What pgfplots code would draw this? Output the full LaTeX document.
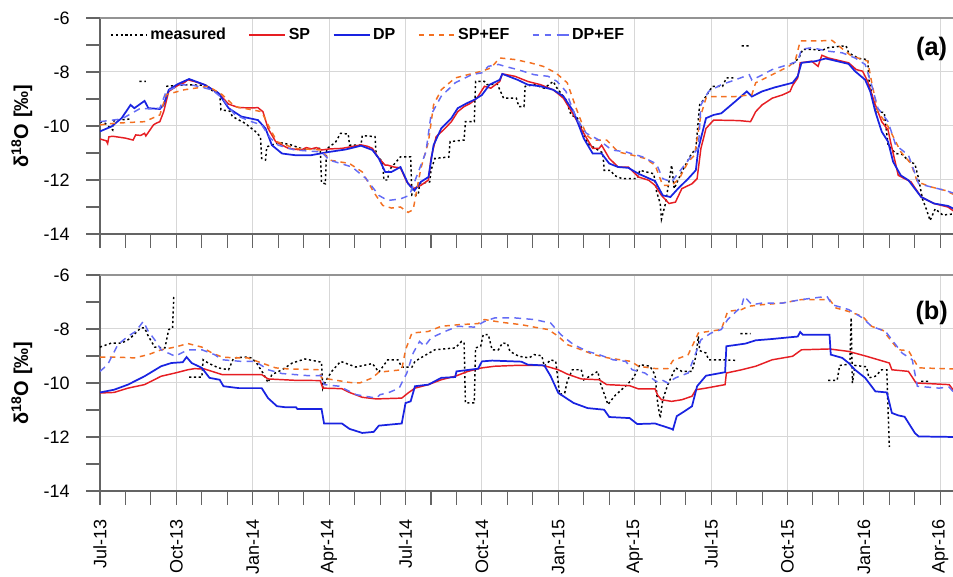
\documentclass[border=0pt]{standalone}
\usepackage{fontspec}
\setmainfont{Liberation Sans}
\usepackage{pgfplots}
\pgfplotsset{compat=1.18}

\definecolor{cSP}{RGB}{230,30,35}
\definecolor{cDP}{RGB}{25,35,225}
\definecolor{cSPEF}{RGB}{243,112,33}
\definecolor{cDPEF}{RGB}{100,108,245}
\definecolor{axgray}{RGB}{100,100,100}
\definecolor{gridgray}{RGB}{215,215,215}

\pgfplotsset{
  mystyle/.style={
    scale only axis, width=639.75pt, height=162pt,
    xmin=0, xmax=33.5, ymin=-14, ymax=-6,
    axis x line*=bottom, axis y line*=left,
    axis line style={axgray, line width=0.8pt, -},
    xtick={0,3,...,33}, minor xtick={0,1,...,33},
    ytick={-14,-12,-10,-8,-6}, minor ytick={-13,-11,-9,-7},
    yticklabels={-14,-12,-10,-8,-6},
    tick align=inside, major tick length=-10.5pt, minor tick length=-10.5pt,
    tick style={axgray, line width=0.8pt},
    xmajorgrids, ymajorgrids, grid style={gridgray, line width=0.75pt},
    tick label style={font=\fontsize{13.5}{16}\selectfont},
    yticklabel style={anchor=east, inner sep=0pt, xshift=-22.5pt},
    clip mode=individual,
    unbounded coords=jump,
  },
  meas/.style={black, line width=1.1pt, dash pattern=on 1.6pt off 2pt},
  sp/.style={cSP, line width=1.1pt},
  dp/.style={cDP, line width=1.3pt},
  spef/.style={cSPEF, line width=1.1pt, dash pattern=on 4pt off 3.5pt},
  dpef/.style={cDPEF, line width=1.1pt, dash pattern=on 5pt off 4pt},
}

\begin{document}
\begin{tikzpicture}
% ---------------- panel (a) ----------------
\begin{axis}[mystyle, at={(0,192.75pt)}, anchor=south west,
  xticklabels={},
  legend columns=-1,
  legend image code/.code={\draw[#1] (0pt,0pt) -- (22.5pt,0pt); \path (22.5pt,0pt) -- (27pt,0pt);},
  legend style={draw=none, fill=none, at={(rel axis cs:0.0117,0.921)}, anchor=west,
    inner sep=0pt, font=\fontsize{12}{14}\selectfont\bfseries,
    /tikz/every even column/.append style={column sep=15pt}},
]
\addplot[meas] coordinates {(0,-9.84) (0.2,-9.9) (0.5,-10.15) (0.55,-9.8) (1.2,-9.74) (1.25,nan) (1.55,-8.35) (1.8,-8.35) (1.85,nan) (2.6,-8.53) (3.0,-8.5) (3.45,-8.47) (4.25,-8.5) (4.3,-8.65) (4.7,-8.78) (4.75,-9.4) (5.1,-9.45) (5.2,-9.65) (5.7,-9.9) (5.95,-10.09) (6.1,-10.2) (6.3,-10.4) (6.35,-11.2) (6.5,-11.26) (6.55,-10.77) (6.75,-10.71) (7.0,-10.6) (7.5,-10.7) (7.95,-10.85) (8.65,-10.83) (8.7,-12.1) (8.85,-12.14) (8.9,-10.85) (9.25,-10.6) (9.45,-10.27) (9.75,-10.3) (9.8,-10.71) (10.25,-10.71) (10.3,-10.36) (10.8,-10.39) (10.85,-11.08) (11.1,-11.33) (11.15,-12.0) (11.3,-12.0) (11.35,-11.64) (11.8,-11.14) (12.2,-11.14) (12.25,-12.57) (12.5,-12.55) (12.55,-12.14) (12.95,-12.07) (13.0,-11.64) (13.15,-11.2) (13.7,-11.15) (13.75,-10.58) (14.3,-10.52) (14.35,-9.84) (14.7,-9.84) (14.75,-8.35) (15.1,-8.35) (15.2,-8.47) (15.6,-8.45) (15.85,-8.97) (16.35,-8.97) (16.45,-9.28) (16.65,-9.28) (16.7,-8.53) (17.05,-8.47) (17.45,-8.6) (17.8,-8.35) (17.95,-8.6) (18.3,-9.03) (18.5,-9.59) (18.75,-9.71) (18.95,-10.15) (19.15,-10.64) (19.4,-10.8) (19.75,-11.0) (19.8,-11.64) (20.05,-11.64) (20.2,-11.83) (20.5,-11.95) (21.1,-11.95) (21.2,-11.64) (21.75,-11.77) (21.85,-12.4) (22.0,-12.87) (22.05,-13.45) (22.2,-12.9) (22.45,-11.45) (22.55,-12.32) (22.85,-11.7) (23.2,-11.08) (23.4,-10.83) (23.55,-9.22) (23.75,-8.97) (24.05,-8.53) (24.45,-8.53) (24.6,-8.22) (24.9,-8.22) (24.95,nan) (25.2,-7.03) (25.55,-7.03) (25.6,nan) (27.2,-7.7) (27.45,-7.48) (27.6,-7.16) (27.95,-7.16) (28.35,-7.2) (28.6,-7.1) (28.95,-7.06) (29.3,-7.03) (29.4,-7.29) (29.8,-7.5) (30.15,-7.54) (30.2,-8.3) (30.45,-9.47) (30.8,-9.5) (30.95,-10.71) (31.25,-11.02) (31.5,-11.05) (31.8,-11.33) (32.0,-11.4) (32.15,-11.95) (32.3,-12.7) (32.45,-13.07) (32.6,-13.5) (32.8,-13.07) (33.1,-13.3) (33.6,-13.25)};
\addlegendentry{measured\hspace{4.5pt}}
\addplot[sp] coordinates {(0,-10.48) (0.25,-10.55) (0.3,-10.65) (0.35,-10.4) (0.5,-10.38) (1.0,-10.45) (1.3,-10.52) (1.4,-10.33) (1.6,-10.35) (1.75,-10.27) (1.8,-10.37) (2.1,-9.96) (2.2,-9.9) (2.35,-9.84) (2.5,-9.47) (2.7,-8.72) (3.05,-8.5) (3.3,-8.4) (3.45,-8.29) (3.7,-8.35) (4.1,-8.47) (4.65,-8.78) (5.05,-9.19) (5.45,-9.32) (6.0,-9.33) (6.2,-9.32) (6.4,-9.47) (6.6,-10.09) (6.9,-10.58) (7.4,-10.83) (7.9,-10.89) (8.1,-10.8) (8.3,-10.85) (8.5,-10.8) (8.7,-10.89) (9.0,-10.85) (9.5,-10.83) (10.25,-10.7) (10.5,-10.75) (10.7,-10.83) (10.95,-11.2) (11.2,-11.45) (11.3,-11.45) (11.55,-11.52) (11.8,-11.55) (12.05,-12.07) (12.3,-12.32) (12.6,-12.2) (12.9,-12.0) (13.0,-11.2) (13.2,-10.4) (13.55,-10.09) (13.8,-9.84) (14.05,-9.47) (14.3,-9.28) (14.55,-9.16) (14.8,-8.97) (15.1,-8.53) (15.35,-8.6) (15.7,-8.35) (15.8,-8.07) (16.3,-8.16) (16.8,-8.35) (17.3,-8.47) (17.8,-8.66) (18.2,-8.97) (18.6,-9.59) (19.0,-10.27) (19.35,-10.83) (19.6,-10.83) (19.7,-10.71) (20.0,-11.2) (20.35,-11.52) (20.75,-11.52) (21.15,-11.89) (21.55,-12.01) (21.8,-12.2) (22.05,-12.57) (22.35,-12.87) (22.6,-12.82) (22.85,-12.32) (23.25,-12.14) (23.45,-11.95) (23.6,-10.83) (23.8,-10.09) (24.1,-9.78) (25.1,-9.8) (25.55,-9.84) (25.75,-9.47) (26.0,-9.22) (26.4,-8.97) (26.8,-8.85) (27.1,-8.72) (27.2,-8.5) (27.4,-8.22) (27.5,-7.66) (27.95,-7.6) (28.2,-7.79) (28.35,-7.38) (28.6,-7.48) (29.4,-7.66) (29.7,-7.91) (29.95,-7.97) (30.15,-8.35) (30.4,-9.09) (30.7,-9.84) (30.95,-10.15) (31.05,-10.6) (31.35,-11.83) (31.85,-12.07) (32.25,-12.63) (32.75,-12.87) (33.3,-13.0) (33.6,-13.2)};
\addlegendentry{SP}
\addplot[dp] coordinates {(0,-10.2) (0.45,-10.02) (0.85,-9.71) (1.2,-9.22) (1.35,-9.34) (1.75,-9.07) (1.9,-9.34) (2.35,-9.37) (2.5,-9.22) (2.7,-8.66) (3.05,-8.45) (3.5,-8.26) (4.1,-8.47) (4.65,-8.78) (5.05,-9.34) (5.55,-9.65) (6.2,-9.78) (6.5,-10.09) (6.75,-10.71) (7.15,-11.02) (7.65,-11.08) (8.3,-11.08) (9.0,-10.96) (9.65,-10.87) (10.25,-10.73) (10.7,-10.89) (10.95,-11.2) (11.2,-11.7) (11.45,-11.7) (11.8,-11.52) (12.1,-12.14) (12.35,-12.39) (12.6,-12.07) (12.9,-11.89) (13.1,-10.71) (13.4,-10.09) (13.8,-9.71) (14.05,-9.34) (14.4,-9.16) (14.7,-9.03) (15.0,-8.85) (15.3,-8.47) (15.7,-8.29) (15.8,-8.07) (16.4,-8.29) (16.8,-8.47) (17.3,-8.53) (17.8,-8.66) (18.2,-8.9) (18.6,-9.47) (19.0,-10.46) (19.35,-11.02) (19.7,-11.02) (20.0,-11.39) (20.35,-11.52) (20.75,-11.55) (21.15,-11.77) (21.8,-12.04) (22.1,-12.57) (22.4,-12.63) (22.7,-12.32) (23.1,-11.95) (23.4,-11.64) (23.5,-10.83) (23.8,-9.71) (24.1,-9.59) (24.4,-9.53) (24.95,-9.09) (25.4,-8.72) (25.6,-8.91) (26.0,-8.72) (26.5,-8.57) (27.2,-8.4) (27.4,-8.16) (27.55,-7.66) (28.1,-7.6) (28.5,-7.5) (29.4,-7.7) (29.65,-7.97) (30.05,-8.29) (30.25,-8.72) (30.45,-9.47) (30.7,-10.21) (30.95,-10.58) (31.15,-11.33) (31.45,-11.83) (31.75,-12.01) (32.25,-12.63) (32.75,-12.87) (33.3,-12.96) (33.6,-13.1)};
\addlegendentry{DP}
\addplot[spef] coordinates {(0,-9.96) (0.55,-9.9) (1.75,-9.84) (2.35,-9.59) (2.6,-8.84) (3.3,-8.66) (4.25,-8.53) (4.8,-8.84) (5.3,-9.28) (6.35,-9.47) (6.6,-9.96) (6.95,-10.58) (7.65,-10.83) (8.7,-10.89) (9.0,-11.26) (9.8,-11.39) (10.3,-11.7) (10.75,-12.45) (11.1,-12.94) (11.45,-13.04) (11.8,-13.0) (12.1,-13.2) (12.3,-13.1) (12.45,-12.32) (12.6,-11.58) (12.9,-10.58) (13.1,-9.22) (13.4,-8.66) (13.95,-8.22) (14.45,-8.1) (15.0,-7.97) (15.35,-7.85) (15.7,-7.48) (16.3,-7.54) (16.9,-7.66) (17.4,-7.79) (17.9,-8.03) (18.35,-8.4) (18.7,-9.34) (19.1,-10.33) (19.35,-10.52) (19.9,-10.52) (20.35,-10.96) (20.9,-11.08) (21.4,-11.2) (21.8,-11.45) (22.1,-12.2) (22.45,-12.2) (22.75,-11.95) (23.1,-11.33) (23.35,-11.08) (23.6,-9.59) (23.8,-8.97) (24.0,-8.91) (24.95,-8.91) (25.6,-8.84) (25.75,-8.4) (26.4,-8.1) (27.05,-7.79) (27.3,-7.6) (27.5,-6.85) (28.2,-6.85) (28.75,-6.83) (29.1,-7.1) (29.5,-7.4) (30.15,-7.6) (30.3,-8.35) (30.55,-9.47) (30.95,-10.02) (31.45,-10.96) (31.85,-11.39) (32.1,-12.07) (32.65,-12.26) (33.2,-12.39) (33.6,-12.57)};
\addlegendentry{SP+EF}
\addplot[dpef] coordinates {(0,-9.84) (0.85,-9.74) (1.6,-9.34) (2.0,-9.37) (2.35,-9.34) (2.6,-8.72) (3.2,-8.47) (3.7,-8.5) (4.4,-8.66) (4.8,-8.97) (5.3,-9.59) (5.95,-9.84) (6.35,-9.96) (6.7,-10.46) (7.0,-10.71) (7.65,-10.89) (8.7,-10.96) (9.0,-11.26) (9.9,-11.52) (10.45,-11.95) (10.95,-12.57) (11.3,-12.76) (11.8,-12.7) (12.15,-12.57) (12.45,-11.83) (12.8,-10.96) (13.0,-9.59) (13.4,-8.9) (13.95,-8.4) (14.6,-8.1) (15.0,-8.03) (15.25,-7.79) (15.65,-7.72) (15.9,-7.79) (16.4,-7.91) (17.05,-8.1) (17.6,-8.16) (17.95,-8.35) (18.3,-8.72) (18.7,-9.71) (19.1,-10.27) (19.6,-10.52) (20.1,-10.89) (20.65,-10.96) (21.3,-11.14) (21.7,-11.33) (21.85,-11.4) (22.1,-11.95) (22.45,-12.07) (22.75,-11.7) (23.25,-11.08) (23.5,-10.83) (23.6,-9.22) (23.9,-8.72) (24.4,-8.47) (24.95,-8.29) (25.5,-8.1) (25.6,-8.3) (25.9,-8.16) (26.4,-7.91) (27.05,-7.72) (27.4,-7.6) (27.55,-7.16) (27.95,-7.1) (28.6,-7.23) (29.15,-7.29) (29.65,-7.48) (30.05,-7.72) (30.3,-8.47) (30.55,-9.34) (30.95,-9.84) (31.25,-10.71) (31.75,-11.08) (32.15,-12.14) (32.65,-12.26) (33.2,-12.39) (33.6,-12.51)};
\addlegendentry{DP+EF}
\draw[axgray!70, line width=0.8pt] (rel axis cs:0,1) -- (rel axis cs:1,1);
\node[rotate=90, anchor=south, font=\fontsize{15}{18}\selectfont\bfseries] at ([xshift=-47.25pt]rel axis cs:0,0.5) {δ\textsuperscript{18}O [‰]};
\node[font=\fontsize{19}{22}\selectfont\bfseries] at (rel axis cs:0.975,0.856) {(a)};
\end{axis}

% ---------------- panel (b) ----------------
\begin{axis}[mystyle, at={(0,0)}, anchor=south west,
  xticklabels={Jul-13,Oct-13,Jan-14,Apr-14,Jul-14,Oct-14,Jan-15,Apr-15,Jul-15,Oct-15,Jan-16,Apr-16},
  xticklabel style={anchor=east, inner sep=0pt, yshift=-21pt, rotate=90},
]
\addplot[meas] coordinates {(0,-8.67) (0.45,-8.52) (0.85,-8.52) (1.1,-8.4) (1.2,-8.33) (1.6,-7.96) (1.75,-7.96) (1.9,-8.27) (2.15,-8.67) (2.55,-8.7) (2.7,-8.02) (2.85,-7.96) (2.9,-6.73) (2.95,nan) (3.5,-9.78) (4.0,-9.78) (4.05,-9.14) (4.25,-9.26) (4.65,-9.44) (5.05,-9.51) (5.25,-9.07) (5.7,-9.04) (5.95,-9.07) (6.15,-9.26) (6.4,-9.63) (6.6,-9.98) (6.75,-9.69) (7.15,-9.51) (7.55,-9.26) (8.05,-9.11) (8.7,-9.23) (8.75,-10.19) (8.85,-9.95) (9.1,-9.57) (9.45,-9.2) (10.05,-9.41) (10.7,-9.28) (10.95,-9.6) (11.3,-9.14) (11.7,-9.14) (11.85,-9.41) (12.25,-9.41) (12.37,-9.2) (12.65,-9.04) (13.15,-8.77) (13.95,-8.7) (14.2,-8.46) (14.3,-8.5) (14.35,-10.74) (14.7,-10.74) (14.75,-8.7) (14.95,-8.64) (15.05,-8.21) (15.25,-8.21) (15.4,-8.77) (15.65,-8.77) (15.8,-8.52) (16.0,-8.54) (16.1,-8.83) (16.45,-9.01) (16.85,-9.07) (17.05,-8.95) (17.35,-8.99) (17.45,-9.38) (17.7,-9.14) (17.9,-9.2) (18.05,-10.43) (18.25,-10.37) (18.35,-9.94) (18.55,-9.51) (18.9,-9.51) (19.0,-9.88) (19.55,-9.57) (19.65,-10.0) (19.95,-10.8) (20.2,-10.49) (20.7,-10.06) (20.95,-9.81) (21.2,-9.32) (21.6,-9.38) (21.8,-9.7) (21.9,-10.74) (22.0,-11.3) (22.1,-10.62) (22.3,-10.06) (22.6,-9.44) (22.85,-9.57) (23.25,-9.57) (23.4,-9.01) (23.5,-8.27) (23.55,-8.8) (23.8,-8.89) (23.9,-9.14) (24.4,-9.14) (24.95,-9.16) (25.0,nan) (25.15,-8.17) (25.55,-8.17) (25.6,nan) (28.6,-9.9) (28.95,-9.9) (29.05,-9.35) (29.45,-9.3) (29.5,-7.58) (29.55,-10.0) (29.65,-9.35) (30.1,-9.4) (30.2,-9.81) (30.45,-9.75) (30.7,-9.51) (30.9,-9.51) (30.95,-11.0) (31.0,-12.37) (31.05,nan) (32.25,-9.94) (32.55,-9.94)};
\addplot[sp] coordinates {(0,-10.37) (0.55,-10.35) (1.1,-10.19) (1.75,-10.06) (2.4,-9.75) (2.95,-9.63) (3.45,-9.51) (3.7,-9.47) (4.1,-9.48) (4.4,-9.57) (4.8,-9.69) (6.35,-9.69) (6.6,-9.85) (7.65,-9.9) (8.65,-9.91) (8.75,-10.19) (9.5,-10.21) (9.8,-10.35) (10.3,-10.53) (10.85,-10.59) (11.85,-10.56) (12.1,-10.37) (12.37,-10.19) (12.9,-10.06) (13.4,-9.88) (13.95,-9.75) (14.45,-9.57) (15.0,-9.44) (15.5,-9.38) (16.3,-9.35) (17.35,-9.35) (17.6,-9.4) (18.0,-9.51) (18.35,-9.67) (18.9,-9.85) (19.6,-9.88) (19.9,-10.06) (20.8,-10.1) (21.15,-10.22) (21.8,-10.22) (21.9,-10.45) (22.05,-10.62) (22.45,-10.68) (22.85,-10.62) (23.25,-10.49) (23.4,-10.25) (23.8,-10.19) (24.55,-10.06) (24.6,-9.63) (25.2,-9.51) (25.75,-9.38) (26.4,-9.14) (27.2,-9.01) (27.55,-8.77) (28.65,-8.74) (29.4,-8.83) (30.1,-9.01) (31.0,-9.26) (31.1,-9.51) (31.75,-9.57) (32.05,-10.0) (33.35,-10.06) (33.6,-10.37)};
\addplot[dp] coordinates {(0,-10.35) (0.55,-10.25) (1.1,-10.06) (1.75,-9.75) (2.4,-9.38) (2.8,-9.26) (3.25,-9.23) (3.4,-9.04) (3.6,-9.26) (4.0,-9.44) (4.3,-9.81) (4.7,-9.88) (4.85,-10.12) (5.45,-10.19) (6.35,-10.19) (6.6,-10.56) (6.95,-10.86) (7.3,-10.9) (7.7,-10.9) (7.75,-10.96) (8.7,-10.96) (8.8,-11.5) (9.5,-11.5) (9.8,-11.7) (10.3,-11.85) (10.75,-11.81) (10.95,-11.58) (11.85,-11.5) (12.0,-10.74) (12.2,-10.68) (12.37,-10.12) (12.9,-10.06) (13.4,-9.81) (13.95,-9.78) (14.0,-9.57) (14.85,-9.47) (15.0,-9.2) (15.4,-9.17) (16.55,-9.21) (16.8,-9.32) (17.45,-9.35) (17.7,-9.75) (18.0,-10.37) (18.6,-10.74) (19.15,-10.93) (19.8,-10.99) (20.0,-11.26) (20.8,-11.3) (21.1,-11.52) (21.8,-11.5) (22.45,-11.7) (22.5,-11.73) (22.65,-11.23) (22.95,-11.05) (23.25,-10.86) (23.45,-10.12) (23.8,-9.73) (24.55,-9.6) (24.6,-8.64) (25.35,-8.54) (25.75,-8.42) (26.4,-8.37) (27.05,-8.31) (27.4,-8.28) (27.5,-8.11) (27.6,-8.21) (28.65,-8.21) (28.7,-8.95) (29.15,-9.07) (29.4,-9.26) (29.65,-9.51) (30.05,-9.81) (30.45,-10.31) (30.9,-10.35) (31.1,-11.11) (31.35,-11.2) (31.6,-11.25) (32.0,-11.85) (32.15,-11.98) (33.6,-12.0)};
\addplot[spef] coordinates {(0,-9.04) (0.55,-9.04) (1.35,-9.07) (1.9,-8.95) (2.4,-8.77) (2.95,-8.67) (3.45,-8.54) (4.0,-8.67) (4.4,-8.89) (4.8,-9.04) (5.3,-9.07) (5.8,-9.07) (6.35,-9.26) (6.9,-9.44) (7.4,-9.48) (8.6,-9.51) (8.7,-9.81) (9.8,-9.98) (10.2,-10.0) (10.7,-9.81) (10.95,-9.6) (11.85,-9.51) (12.0,-8.77) (12.25,-8.15) (12.9,-8.09) (13.4,-7.9) (14.1,-7.84) (14.85,-7.8) (15.1,-7.65) (15.75,-7.75) (16.55,-7.84) (17.05,-7.93) (17.6,-8.02) (18.0,-8.27) (18.35,-8.58) (18.9,-8.77) (19.4,-8.95) (19.95,-9.07) (20.85,-9.2) (21.15,-9.38) (21.85,-9.47) (22.3,-9.47) (22.5,-9.17) (23.1,-8.95) (23.5,-8.15) (23.9,-8.09) (24.4,-8.02) (24.65,-7.35) (25.2,-7.28) (25.45,-7.16) (26.0,-7.1) (26.8,-7.04) (27.55,-6.91) (28.65,-6.91) (28.9,-7.22) (29.4,-7.35) (29.95,-7.53) (30.3,-7.9) (30.75,-8.05) (31.35,-8.77) (31.75,-8.8) (32.15,-9.44) (33.6,-9.48)};
\addplot[dpef] coordinates {(0,-9.57) (0.3,-9.32) (0.7,-8.58) (1.1,-8.27) (1.4,-8.09) (1.7,-7.72) (1.9,-8.09) (2.15,-8.4) (2.4,-8.77) (2.95,-9.01) (3.45,-8.77) (4.0,-8.77) (4.5,-8.95) (4.8,-9.14) (5.55,-9.2) (6.1,-9.2) (6.6,-9.51) (7.15,-9.65) (8.2,-9.73) (8.7,-9.73) (8.8,-10.06) (9.4,-10.12) (10.05,-10.43) (10.85,-10.56) (11.0,-10.43) (11.3,-10.37) (11.75,-10.19) (12.05,-9.63) (12.3,-8.89) (12.55,-8.46) (12.75,-8.64) (13.0,-8.33) (13.55,-8.09) (14.05,-7.9) (14.7,-7.93) (15.1,-7.72) (15.5,-7.59) (16.3,-7.59) (17.05,-7.65) (17.7,-7.78) (18.1,-8.21) (18.6,-8.58) (19.15,-8.83) (19.6,-8.95) (20.15,-9.14) (20.65,-9.2) (20.9,-9.51) (21.4,-9.63) (21.85,-9.95) (22.05,-9.88) (22.3,-10.0) (22.6,-9.81) (23.1,-9.63) (23.35,-9.01) (23.6,-8.4) (24.0,-8.15) (24.4,-8.02) (24.65,-7.65) (25.2,-7.16) (25.3,-6.79) (25.6,-7.1) (26.0,-7.04) (26.8,-7.04) (27.55,-6.91) (28.55,-6.79) (28.75,-7.1) (29.4,-7.28) (29.95,-7.59) (30.3,-7.9) (30.85,-8.09) (31.1,-8.4) (31.5,-8.89) (31.9,-9.14) (32.1,-10.12) (32.95,-10.19) (33.35,-10.15) (33.6,-10.43)};
\draw[axgray!70, line width=0.8pt] (rel axis cs:0,1) -- (rel axis cs:1,1);
\node[rotate=90, anchor=south, font=\fontsize{15}{18}\selectfont\bfseries] at ([xshift=-47.25pt]rel axis cs:0,0.5) {δ\textsuperscript{18}O [‰]};
\node[font=\fontsize{19}{22}\selectfont\bfseries] at (rel axis cs:0.975,0.825) {(b)};
\end{axis}
\pgfresetboundingbox
\path[use as bounding box] (-75pt,-64.5pt) rectangle (639.75pt,368.25pt);
\end{tikzpicture}
\end{document}
